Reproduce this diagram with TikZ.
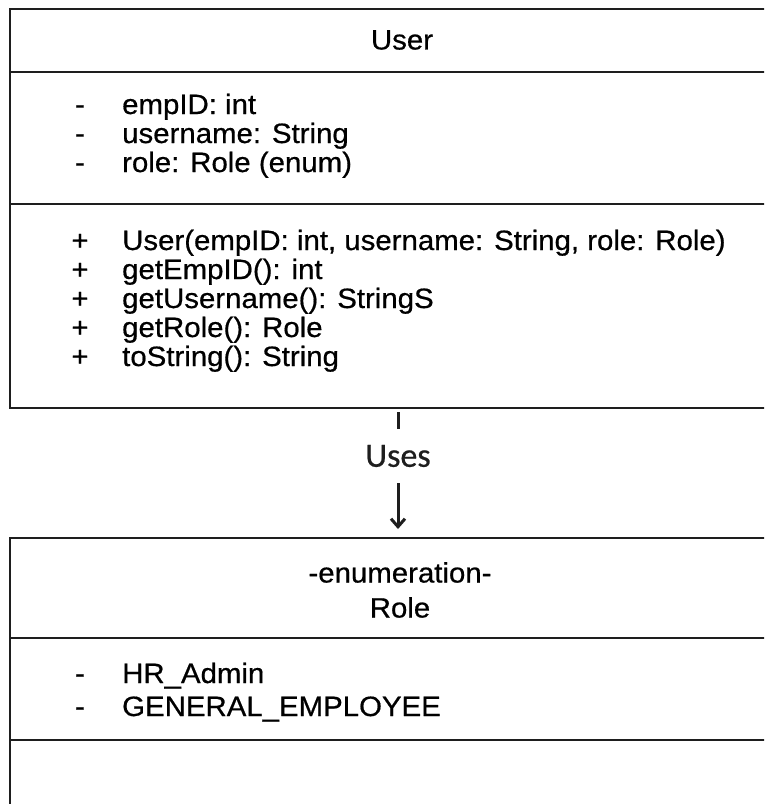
\documentclass[tikz,border=0pt]{standalone}
\usepackage{fontspec}
\setmainfont{Liberation Sans}[FakeStretch=1.05, FakeBold=0.6]
\newfontfamily\usesfont{Carlito}[FakeBold=0.6]
\usetikzlibrary{positioning,arrows.meta}
\definecolor{umlline}{HTML}{1e1e1e}

\begin{document}
\begin{tikzpicture}[x=1pt, y=-1pt,
  classbox/.style={draw=umlline, line width=1.8pt, anchor=north west, inner sep=0pt},
  divider/.style={draw=umlline, line width=1.8pt},
  member/.style={anchor=base west, inner sep=0pt, font=\fontsize{28}{30}\selectfont},
  marker/.style={anchor=base, inner sep=0pt, font=\fontsize{28}{30}\selectfont},
  classtitle/.style={align=center, inner sep=0pt, font=\fontsize{28}{35}\selectfont}]

  % page frame: the boxes run off the right and bottom edges
  \useasboundingbox (0,0) rectangle (764,804);
  \clip (0,0) rectangle (764,804);

  % User class
  \node[classbox, minimum width=782pt, minimum height=399pt] (userBox) at (9,8) {};
  \draw[divider] (9,72) -- (791,72);
  \draw[divider] (9,204) -- (791,204);
  \node[classtitle] (userTitle) at (402,40) {User};

  % attributes
  \foreach \txt/\yy [count=\i] in {empID: int/114, username: String/143, role: Role (enum)/172}{
    \node[marker] (attrMark\i) at (80,\yy) {-};
    \node[member] (attr\i) at (122,\yy) {\txt};
  }

  % operations
  \foreach \txt/\yy [count=\i] in {%
    {User(empID: int, username: String, role: Role)}/250,
    getEmpID(): int/279,
    getUsername(): StringS/308,
    getRole(): Role/337,
    toString(): String/366}{
    \node[marker] (opMark\i) at (80,\yy) {+};
    \node[member] (op\i) at (122,\yy) {\txt};
  }

  % Role enumeration
  \node[classbox, minimum width=782pt, minimum height=300pt] (roleBox) at (9,537) {};
  \draw[divider] (9,638) -- (791,638);
  \draw[divider] (9,740) -- (791,740);
  \node[classtitle] (roleTitle) at (400,590) {-enumeration-\\Role};

  \foreach \txt/\yy [count=\i] in {HR\_Admin/683, GENERAL\_EMPLOYEE/716}{
    \node[marker] (litMark\i) at (80,\yy) {-};
    \node[member] (lit\i) at (122,\yy) {\txt};
  }

  % dependency User -> Role
  \node[font=\usesfont\fontsize{34}{40}\selectfont, text=umlline, inner xsep=3pt, inner ysep=16pt] (usesLbl) at (398,456) {Uses};
  \draw[umlline, line width=3pt, shorten >=3pt] (usesLbl.north) -- (usesLbl.north |- userBox.south);
  \draw[umlline, line width=3pt, shorten >=8pt, -{Straight Barb[length=8pt, width=14pt]}]
    (usesLbl.south) -- (usesLbl.south |- roleBox.north);
\end{tikzpicture}
\end{document}
